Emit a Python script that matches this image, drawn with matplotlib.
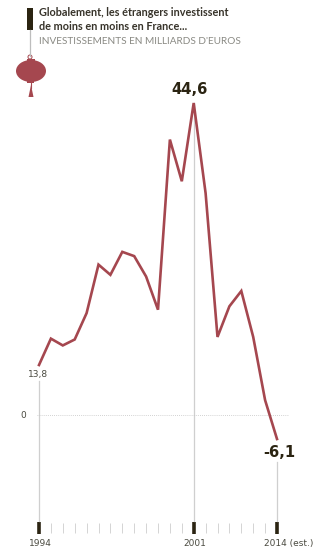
# -*- coding: utf-8 -*-

import numpy as np
import matplotlib
matplotlib.use('Agg')
import matplotlib.pyplot as plt
from matplotlib.patches import Ellipse, Polygon, Circle, Rectangle
from matplotlib.transforms import ScaledTranslation

WIDTH, HEIGHT = 322, 551

# yearly steps on the timeline, 21 points
steps = list(range(21))
investments = [13.8, 16.9, 16.1, 16.8, 19.9, 25.6, 24.4, 27.1, 26.6, 24.2, 20.3,
               40.3, 35.4, 44.6, 34.0, 17.1, 20.7, 22.5, 17.1, 4.1, -6.1]

major_steps = [0, 13, 20]
major_labels = ['1994', '2001', '2014 (est.)']
title_lines = ['Globalement, les étrangers investissent', 'de moins en moins en France...']
subtitle = "INVESTISSEMENTS EN MILLIARDS D'EUROS"

# the printed vertical axis is not linear, so it goes through these stops
scale_values = [-6.1, 0, 13.8, 44.6]
scale_stops = [-439, -415, -365, -103]

RED = '#a5474f'
DARK = '#2b2412'
GUIDE = '#cfcfcf'


def forward(v):
    v = np.asarray(v, dtype=float)
    return np.interp(v, scale_values, scale_stops)


def inverse(p):
    p = np.asarray(p, dtype=float)
    return np.interp(p, scale_stops, scale_values)


def y_frac(py):
    # pixel row to axes fraction
    return (439 - py) / (439 - 103)


fig = plt.figure(figsize=(WIDTH / 100, HEIGHT / 100), dpi=100)
ax = fig.add_axes([39 / WIDTH, 1 - 439 / HEIGHT, (277 - 39) / WIDTH, (439 - 103) / HEIGHT])
ax.set_yscale('function', functions=(forward, inverse))
ax.set_xlim(0, 20)
ax.set_ylim(-6.1, 44.6)
ax.patch.set_visible(False)

trans = ax.get_xaxis_transform()
ax.plot([0, 0], [y_frac(381), y_frac(521)], color=GUIDE, lw=0.9, transform=trans, clip_on=False)
ax.plot([13, 13], [y_frac(103), y_frac(521)], color=GUIDE, lw=0.9, transform=trans, clip_on=False)
ax.plot([20, 20], [y_frac(462), y_frac(521)], color=GUIDE, lw=0.9, transform=trans, clip_on=False)

ax.plot([-0.2, 20.9], [0, 0], color='#c4c4c4', lw=0.6, ls=(0, (1, 1.5)), clip_on=False)
ax.plot(steps, investments, color=RED, lw=1.9, solid_joinstyle='miter', clip_on=False, zorder=3)

for side in ['left', 'right', 'top', 'bottom']:
    ax.spines[side].set_visible(False)
ax.spines['bottom'].set_position(('outward', (527.5 - 439) * 0.72))

ax.set_xticks(major_steps)
ax.set_xticklabels(major_labels)
ax.set_xticks([s for s in steps if s not in major_steps], minor=True)
ax.tick_params(axis='x', which='major', direction='inout', length=8.5, width=2.6,
               color=DARK, labelcolor='#4a4a40', labelsize=6.5, pad=4)
ax.tick_params(axis='x', which='minor', direction='inout', length=7, width=0.7, color='#d4d4d4')

# the year labels sit a little to the right of their ticks
label_shifts = [1.5, 1, 11.5]
for tick, shift in zip(ax.xaxis.get_major_ticks(), label_shifts):
    tick.label1.set_transform(tick.label1.get_transform()
                              + ScaledTranslation(shift / 100, 0, fig.dpi_scale_trans))

ax.set_yticks([0])
ax.set_yticklabels(['0'])
ax.tick_params(axis='y', length=0, labelsize=6.5, labelcolor='#4a4a40', pad=9)

ax.annotate('13,8', (0, 13.8), xytext=(-0.5, -7), textcoords='offset points', ha='center', va='center',
            fontsize=6.6, color='#4a4a40', annotation_clip=False)
ax.annotate('44,6', (13, 44.6), xytext=(-3, 9.5), textcoords='offset points', ha='center', va='center',
            fontsize=10.6, fontweight='bold', color=DARK, annotation_clip=False)
ax.annotate('-6,1', (20, -6.1), xytext=(1.5, -9.5), textcoords='offset points', ha='center', va='center',
            fontsize=10.6, fontweight='bold', color=DARK, annotation_clip=False)

# header and lantern, laid out in pixels
top = fig.add_axes([0, 0, 1, 1])
top.set_xlim(0, WIDTH)
top.set_ylim(HEIGHT, 0)
top.axis('off')
top.patch.set_visible(False)

top.plot([30.5, 30.5], [30, 56], color='#bdbdbd', lw=0.9)
top.add_patch(Rectangle((27.5, 8), 5.5, 22, color=DARK, lw=0))
top.add_patch(Circle((30, 57), 2, fill=False, ec=RED, lw=0.7))
top.add_patch(Ellipse((31, 71), 30, 22, color=RED, lw=0))
top.add_patch(Rectangle((27, 59), 8, 2.5, color=RED, lw=0))
top.add_patch(Rectangle((27.5, 81), 7, 2, color=RED, lw=0))
top.plot([31, 31], [82, 88], color=RED, lw=0.8)
top.add_patch(Polygon([(31, 85), (33.5, 97), (28.5, 97)], color=RED, lw=0))

top.text(39, 12.5, title_lines[0], fontsize=7.85, fontweight='bold', family='Lato', color='#37332a', va='center')
top.text(39, 26, title_lines[1], fontsize=7.85, fontweight='bold', family='Lato', color='#37332a', va='center')
top.text(39.5, 42, subtitle, fontsize=7.2, family='Lato', color='#8a8a84', va='center')

fig.savefig('out.png', dpi=100)
